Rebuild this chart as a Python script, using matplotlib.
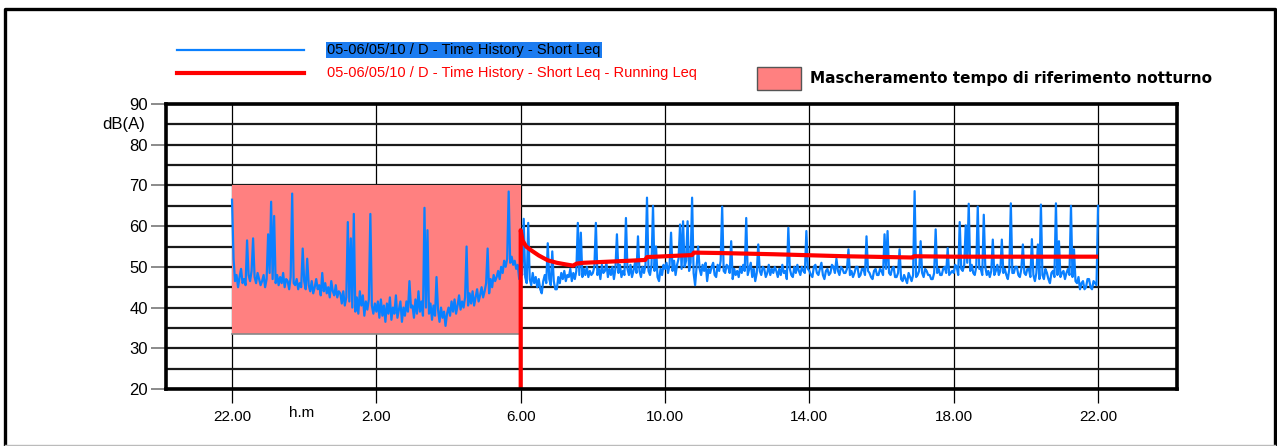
import numpy as np
import matplotlib.pyplot as plt
from matplotlib.patches import Rectangle
from matplotlib.lines import Line2D

plt.rcParams['font.family'] = ['Liberation Sans', 'DejaVu Sans']

# Short Leq in dB(A), one value every 2.5 minutes, one list per hour starting at 22.00
h00 = [66.5, 52.0, 46.5, 48.0, 45.0, 47.5, 49.5, 46.0, 47.0, 45.5, 56.5, 48.0,
       46.5, 49.0, 57.0, 47.5, 46.0, 48.5, 47.0, 45.5, 46.5, 48.0, 45.0, 47.0]
h01 = [58.0, 48.5, 66.0, 47.0, 62.5, 46.0, 48.0, 45.5, 47.5, 46.0, 48.5, 45.0,
       47.0, 46.5, 44.5, 47.5, 68.0, 46.0, 45.5, 47.0, 44.5, 46.0, 45.0, 54.5]
h02 = [46.5, 44.5, 52.0, 45.5, 44.0, 46.5, 43.5, 45.0, 47.0, 44.5, 45.5, 43.0,
       48.5, 44.0, 46.0, 43.5, 45.0, 42.5, 46.5, 44.0, 43.0, 45.5, 42.5, 44.0]
h03 = [43.5, 41.0, 44.0, 40.5, 42.5, 61.0, 41.5, 57.0, 40.0, 63.0, 39.0, 42.5,
       38.5, 44.0, 40.5, 43.0, 38.0, 41.5, 39.5, 42.0, 63.0, 40.5, 38.5, 41.0]
h04 = [39.0, 41.5, 37.5, 42.0, 38.0, 40.5, 36.5, 41.0, 38.5, 42.5, 37.0, 40.0,
       38.5, 43.0, 37.5, 39.5, 41.5, 36.5, 40.0, 38.0, 41.5, 39.0, 46.5, 40.0]
h05 = [40.5, 37.5, 42.0, 38.5, 44.0, 39.0, 41.5, 38.0, 64.5, 40.0, 59.0, 38.5,
       41.0, 37.0, 40.5, 38.0, 47.5, 39.5, 36.5, 40.0, 37.5, 39.0, 35.5, 38.5]
h06 = [40.0, 38.0, 41.5, 39.0, 42.0, 38.5, 40.5, 43.0, 39.5, 41.5, 40.0, 42.5,
       55.0, 40.5, 43.5, 41.0, 44.0, 40.5, 42.5, 44.5, 41.5, 43.0, 45.0, 42.5]
h07 = [44.0, 46.0, 54.5, 43.5, 47.0, 45.0, 48.0, 46.5, 47.5, 49.0, 47.0, 50.0,
       48.5, 51.5, 50.0, 52.0, 68.5, 51.0, 52.5, 50.5, 51.5, 49.5, 50.5, 47.0]
h08 = [50.0, 48.0, 61.8, 47.5, 46.0, 60.8, 47.0, 45.5, 48.5, 46.0, 47.5, 45.0,
       47.0, 44.5, 43.5, 46.5, 48.0, 46.0, 55.8, 47.0, 45.5, 53.8, 46.5, 44.5]
h09 = [44.5, 47.5, 46.0, 48.5, 47.0, 49.0, 46.5, 48.0, 47.5, 49.5, 46.5, 48.5,
       47.0, 49.0, 60.8, 48.0, 58.4, 47.5, 49.5, 48.0, 50.0, 47.5, 49.0, 48.0]
h10 = [48.5, 50.0, 60.8, 48.0, 49.5, 47.0, 50.5, 48.5, 49.0, 51.0, 47.5, 49.5,
       48.0, 50.0, 47.0, 49.5, 58.0, 48.5, 50.5, 47.5, 49.0, 48.0, 62.0, 49.5]
h11 = [48.0, 50.5, 47.5, 49.0, 51.0, 48.5, 57.5, 49.0, 47.5, 50.0, 48.5, 50.5,
       67.0, 49.0, 48.0, 50.5, 65.0, 49.0, 55.0, 47.5, 46.5, 49.5, 48.0, 50.5]
h12 = [49.5, 51.0, 48.5, 50.5, 58.4, 49.0, 51.5, 48.0, 50.5, 52.0, 60.4, 49.5,
       61.2, 50.0, 51.5, 61.2, 49.0, 51.0, 67.0, 48.5, 45.5, 50.0, 55.0, 49.5]
h13 = [48.0, 50.5, 49.0, 51.0, 46.5, 49.5, 48.5, 50.0, 51.0, 48.0, 47.5, 50.5,
       49.0, 51.5, 64.8, 49.0, 48.5, 50.5, 50.0, 48.5, 56.3, 47.0, 49.5, 48.0]
h14 = [49.0, 47.5, 50.0, 48.5, 50.5, 49.0, 62.0, 48.0, 49.5, 51.0, 47.5, 49.5,
       46.5, 48.5, 55.5, 49.0, 48.0, 50.0, 49.5, 47.5, 48.5, 50.5, 48.0, 49.5]
h15 = [48.5, 50.0, 49.0, 47.5, 49.5, 48.0, 50.5, 48.5, 49.0, 47.0, 59.6, 49.5,
       48.0, 47.5, 50.0, 48.5, 50.5, 49.0, 48.0, 50.0, 49.0, 48.5, 58.8, 49.5]
h16 = [49.0, 48.0, 47.5, 50.0, 50.5, 48.5, 48.0, 49.5, 51.0, 48.0, 47.0, 49.0,
       49.5, 48.0, 48.5, 50.5, 50.0, 48.5, 52.0, 49.0, 48.0, 50.0, 49.5, 48.5]
h17 = [48.5, 49.5, 54.3, 48.0, 49.0, 47.5, 48.5, 50.0, 50.0, 47.5, 48.0, 49.5,
       49.5, 48.0, 57.5, 49.0, 48.5, 47.5, 47.0, 49.0, 49.5, 48.0, 48.0, 49.5]
h18 = [49.0, 48.0, 58.0, 49.5, 58.8, 48.5, 48.0, 49.5, 50.0, 47.5, 47.5, 48.5,
       54.3, 47.0, 46.5, 48.0, 47.0, 46.0, 48.5, 47.5, 46.5, 48.0, 68.6, 47.5]
h19 = [48.0, 49.0, 56.3, 48.5, 47.5, 49.5, 49.0, 48.0, 48.0, 47.0, 47.0, 48.5,
       59.2, 48.5, 49.5, 48.0, 48.0, 49.5, 50.0, 48.5, 54.6, 48.0, 48.5, 49.0]
h20 = [48.5, 50.5, 50.0, 48.0, 61.0, 49.5, 49.0, 50.5, 60.2, 51.0, 65.5, 49.0,
       50.5, 48.5, 48.0, 50.0, 64.8, 49.5, 49.5, 48.0, 62.8, 50.0, 48.0, 49.0]
h21 = [47.5, 49.0, 56.7, 48.0, 49.0, 50.5, 48.0, 49.0, 56.7, 48.5, 49.5, 48.0,
       47.0, 49.5, 65.6, 48.5, 48.5, 50.0, 50.0, 48.0, 47.5, 49.5, 55.5, 48.5]
h22 = [48.0, 49.5, 49.5, 47.5, 56.8, 48.0, 46.5, 48.5, 55.5, 47.0, 65.3, 48.0,
       47.0, 49.5, 48.5, 47.0, 46.0, 48.5, 49.0, 47.5, 65.6, 48.0, 56.3, 47.5]
h23 = [48.5, 49.0, 47.0, 48.5, 49.5, 48.0, 65.0, 47.5, 54.3, 46.5, 46.0, 47.5,
       44.5, 46.0, 46.5, 44.5, 45.0, 47.0, 47.0, 45.0, 44.5, 46.5, 46.0, 45.5]
last = [65.0]

short_leq = (h00 + h01 + h02 + h03 + h04 + h05 + h06 + h07 + h08 + h09 + h10 + h11
             + h12 + h13 + h14 + h15 + h16 + h17 + h18 + h19 + h20 + h21 + h22 + h23 + last)
t_short = np.arange(len(short_leq)) / 24.0  # hours since 22.00

# Running Leq (day period, starts at 6.00)
t_running = [8.0, 8.0, 8.05, 8.15, 8.3, 8.5, 8.75, 9.0, 9.25, 9.45, 9.55, 9.75, 10.5, 11.0,
             11.45, 11.5, 12.0, 12.75, 12.8, 13.5, 15.0, 17.0, 18.85, 18.9, 20.0, 22.0, 24.0]
running_leq = [0.0, 59.0, 56.5, 55.0, 54.0, 52.8, 51.6, 51.0, 50.6, 50.3, 50.8, 51.0, 51.3, 51.5,
               51.7, 52.4, 52.6, 52.9, 53.5, 53.4, 53.1, 52.6, 52.3, 52.6, 52.5, 52.5, 52.5]

tick_hours = [0, 4, 8, 12, 16, 20, 24]
tick_labels = ['22.00', '2.00', '6.00', '10.00', '14.00', '18.00', '22.00']
y_ticks = [20, 30, 40, 50, 60, 70, 80, 90]

# night masking period
mask_start, mask_end = 0.0, 8.0
mask_low, mask_high = 33.4, 70.0

W, H = 1277, 446
fig = plt.figure(figsize=(W / 100, H / 100), dpi=100)


def fx(px):
    return px / W


def fy(py):
    return 1 - py / H


ax = fig.add_axes([fx(166), fy(389), fx(1176.7) - fx(166), fy(104) - fy(389)])
ax.set_xlim(-1.83, 26.18)
ax.set_ylim(20, 90)

ax.set_yticks(y_ticks)
ax.set_yticks(np.arange(25, 90, 10), minor=True)
ax.set_xticks(tick_hours)
ax.set_xticklabels(tick_labels)

ax.grid(axis='y', which='both', color='#1a1a1a', lw=1.6, zorder=1)
ax.grid(axis='x', which='major', color='black', lw=0.9, zorder=1)
ax.set_axisbelow(True)

ax.tick_params(axis='y', which='major', direction='out', length=11, width=1.2,
               color='#777777', labelsize=12, pad=2)
ax.tick_params(axis='y', which='minor', length=0)
ax.tick_params(axis='x', which='major', direction='out', length=10, width=0.9,
               color='black', labelsize=11, pad=5)
for s in ax.spines.values():
    s.set_linewidth(2.6)
    s.set_color('black')
    s.set_zorder(6)

ax.add_patch(Rectangle((mask_start, mask_low), mask_end - mask_start, mask_high - mask_low,
                       facecolor='#FF8080', edgecolor='none', zorder=2))
ax.plot([mask_start, mask_end], [mask_low, mask_low], color='#888888', lw=1.2, zorder=2.5)

ax.plot(t_short, short_leq, color='#0A80FF', lw=1.6, zorder=3)
ax.plot(t_running, running_leq, color='#FF0000', lw=3, zorder=4, solid_capstyle='butt')

fig.text(fx(124), fy(124), 'dB(A)', fontsize=12, ha='center', va='center')
fig.text(fx(302), fy(413), 'h.m', fontsize=11, ha='center', va='center')

# legend
fig.add_artist(Line2D([fx(177), fx(304)], [fy(50), fy(50)], color='#0A80FF', lw=1.6))
fig.add_artist(Line2D([fx(177), fx(304)], [fy(73), fy(73)], color='#FF0000', lw=3))
fig.text(fx(327), fy(50), '05-06/05/10 / D - Time History - Short Leq', fontsize=10.5,
         va='center', ha='left', color='black',
         bbox=dict(boxstyle='square,pad=0.08', facecolor='#1C7CF0', edgecolor='none'))
fig.text(fx(327), fy(73), '05-06/05/10 / D - Time History - Short Leq - Running Leq',
         fontsize=10.5, va='center', ha='left', color='#FF0000')

fig.add_artist(Rectangle((fx(757), fy(90)), fx(801) - fx(757), fy(67) - fy(90),
                         facecolor='#FF8080', edgecolor='#555555', lw=1))
fig.text(fx(810), fy(79), 'Mascheramento tempo di riferimento notturno', fontsize=11.0,
         fontweight='bold', family='DejaVu Sans', va='center', ha='left')

# outer frame
fig.add_artist(Line2D([fx(5), fx(5), fx(1275), fx(1275)], [fy(445), fy(9), fy(9), fy(445)],
                      color='black', lw=2.4))
fig.add_artist(Line2D([fx(5), fx(1275)], [fy(445), fy(445)], color='#bbbbbb', lw=1))

fig.savefig('out.png', dpi=100)
